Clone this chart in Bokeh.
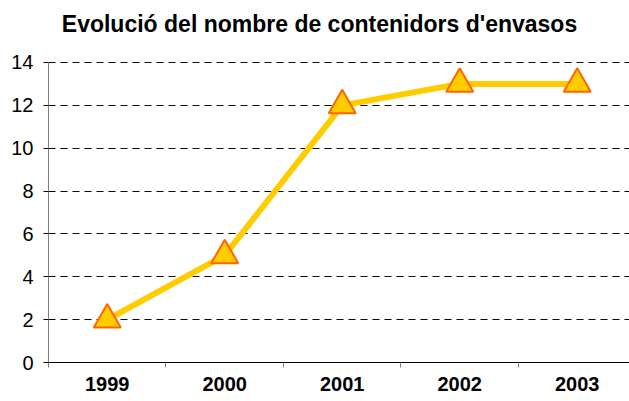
from bokeh.plotting import figure
from bokeh.models import FixedTicker, Range1d, Label
from bokeh.embed import file_html
from bokeh.resources import INLINE

years = ["1999", "2000", "2001", "2002", "2003"]
containers = [2, 5, 12, 13, 13]
y_ticks = [0, 2, 4, 6, 8, 10, 12, 14]
title_text = "Evolució del nombre de contenidors d'envasos"

xs = list(range(len(years)))

# frame spans the full top of the canvas so the title label sits inside it
p = figure(width=629, height=401, output_backend="svg", toolbar_location=None,
           x_range=Range1d(-0.5, 4.445), y_range=Range1d(0, 16.893),
           min_border_left=48, min_border_right=0, min_border_top=0, min_border_bottom=39)
p.outline_line_color = None
p.background_fill_color = "white"
p.border_fill_color = "white"

# title placed in screen units (origin at the frame's bottom-left corner)
title = Label(x=271, y=339, x_units="screen", y_units="screen", text=title_text,
              text_font="Liberation Sans", text_font_size="23px", text_font_style="bold",
              text_color="black", text_align="center", text_baseline="middle")
p.add_layout(title)

# x axis
p.xaxis.ticker = FixedTicker(ticks=xs, minor_ticks=[i - 0.5 for i in range(len(years) + 1)])
p.xaxis.major_label_overrides = {i: y for i, y in enumerate(years)}
p.xaxis.major_tick_line_color = None
p.xaxis.major_tick_out = 0
p.xaxis.major_tick_in = 0
p.xaxis.minor_tick_line_color = "#808080"
p.xaxis.minor_tick_out = 5
p.xaxis.minor_tick_in = 0
p.xaxis.axis_line_color = "black"
p.xaxis.major_label_text_font = "Liberation Sans"
p.xaxis.major_label_text_font_size = "20px"
p.xaxis.major_label_text_font_style = "bold"
p.xaxis.major_label_text_color = "black"
p.xaxis.major_label_standoff = 9

# y axis
p.yaxis.ticker = FixedTicker(ticks=y_ticks)
p.yaxis.bounds = (y_ticks[0], y_ticks[-1])
p.yaxis.minor_tick_line_color = None
p.yaxis.axis_line_color = "#808080"
p.yaxis.major_tick_line_color = "black"
p.yaxis.major_tick_out = 5
p.yaxis.major_tick_in = 0
p.yaxis.major_label_text_font = "Liberation Sans"
p.yaxis.major_label_text_font_size = "20px"
p.yaxis.major_label_text_color = "black"
p.yaxis.major_label_standoff = 10

p.xgrid.grid_line_color = None
p.ygrid.ticker = FixedTicker(ticks=y_ticks[1:])
p.ygrid.grid_line_color = "black"
p.ygrid.grid_line_dash = "7 5"
p.ygrid.grid_line_width = 1

p.line(xs, containers, line_color="#FFCC00", line_width=6)
p.scatter(xs, containers, marker="triangle", size=27, fill_color="#FFCC00",
          line_color="#FF6600", line_width=2)

open("out.html", "w").write(file_html(p, INLINE))
